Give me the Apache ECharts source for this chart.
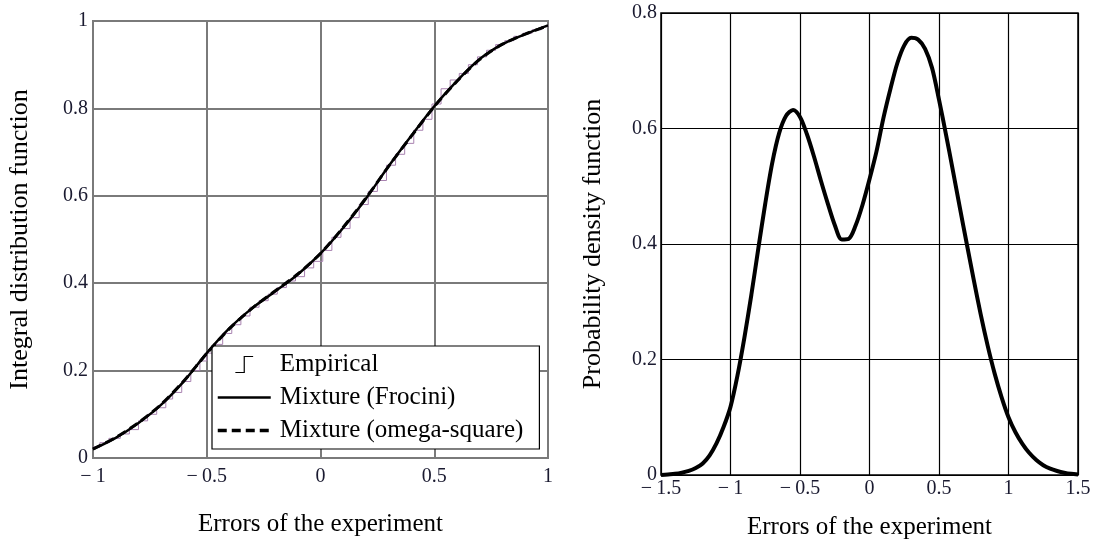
<!DOCTYPE html>
<html>
<head>
<meta charset="utf-8">
<script src="https://cdn.jsdelivr.net/npm/echarts@6/dist/echarts.min.js"></script>
<style>
html,body{margin:0;padding:0;background:#fff;overflow:hidden;}
#chart{width:1098px;height:540px;}
</style>
</head>
<body>
<div id="chart"></div>
<script>
// ---- Left chart: integral distribution function ----
const cdfX = [-1.0,-0.9,-0.8,-0.7,-0.6,-0.5,-0.4,-0.3,-0.2,-0.1,0.0,0.1,0.2,0.3,0.4,0.5,0.6,0.7,0.8,0.9,1.0];
const frociniY = [0.02,0.046,0.08,0.122,0.176,0.24,0.297,0.343,0.381,0.42,0.468,0.527,0.594,0.668,0.738,0.805,0.863,0.913,0.947,0.97,0.99];
const omegaY = [0.021,0.047,0.081,0.123,0.177,0.239,0.296,0.343,0.382,0.421,0.468,0.528,0.595,0.668,0.737,0.804,0.862,0.912,0.947,0.97,0.989];
const empX = [-1.0,-0.97,-0.93,-0.88,-0.84,-0.80,-0.76,-0.72,-0.68,-0.65,-0.61,-0.57,-0.53,-0.50,-0.47,-0.43,-0.39,-0.35,-0.31,-0.27,-0.23,-0.19,-0.15,-0.11,-0.07,-0.03,0.01,0.05,0.09,0.13,0.17,0.21,0.25,0.29,0.33,0.37,0.41,0.45,0.49,0.53,0.57,0.61,0.65,0.69,0.73,0.77,0.81,0.85,0.89,0.93,0.97,1.0];
const empY = [0.025,0.035,0.045,0.055,0.065,0.085,0.10,0.115,0.135,0.15,0.175,0.2,0.222,0.24,0.26,0.285,0.305,0.325,0.345,0.36,0.375,0.39,0.405,0.415,0.435,0.45,0.475,0.505,0.525,0.55,0.58,0.61,0.635,0.67,0.695,0.72,0.75,0.775,0.81,0.845,0.865,0.88,0.9,0.918,0.933,0.946,0.955,0.965,0.972,0.98,0.987,0.99];

// ---- Right chart: probability density function ----
const pdfX = [-1.5,-1.45,-1.4,-1.35,-1.3,-1.25,-1.2,-1.15,-1.1,-1.05,-1.0,-0.95,-0.9,-0.85,-0.8,-0.75,-0.7,-0.65,-0.6,-0.55,-0.5,-0.45,-0.4,-0.35,-0.3,-0.25,-0.2,-0.15,-0.1,-0.05,0.0,0.05,0.1,0.15,0.2,0.25,0.3,0.35,0.4,0.45,0.5,0.55,0.6,0.65,0.7,0.75,0.8,0.85,0.9,0.95,1.0,1.05,1.1,1.15,1.2,1.25,1.3,1.35,1.4,1.45,1.5];
const pdfY = [0.000,0.001,0.002,0.004,0.007,0.012,0.020,0.034,0.055,0.083,0.118,0.172,0.238,0.312,0.392,0.470,0.540,0.592,0.622,0.632,0.620,0.590,0.552,0.510,0.470,0.433,0.408,0.409,0.432,0.468,0.512,0.560,0.618,0.668,0.713,0.744,0.757,0.754,0.738,0.705,0.650,0.590,0.527,0.463,0.400,0.338,0.278,0.224,0.176,0.135,0.100,0.074,0.054,0.038,0.026,0.017,0.011,0.007,0.004,0.002,0.001];

const leftXTicks = {min:-1, max:1, interval:0.5};
const leftYTicks = {min:0, max:1, interval:0.2};
const rightXTicks = {min:-1.5, max:1.5, interval:0.5};
const rightYTicks = {min:0, max:0.8, interval:0.2};

const seriesNames = ['Empirical','Mixture (Frocini)','Mixture (omega-square)'];
const axisTitleX = 'Errors of the experiment';
const axisTitleYLeft = 'Integral distribution function';
const axisTitleYRight = 'Probability density function';

const FONT = 'Liberation Serif';
const zip = (xs, ys) => xs.map((x, i) => [x, ys[i]]);
const fmt = v => {
  const r = Math.round(v * 10) / 10;
  return r < 0 ? '\u2212\u2009' + Math.abs(r) : String(r);
};
const tickLabel = {fontFamily: FONT, fontSize: 20, color: '#1a1a30', formatter: fmt};
const nameStyle = {fontFamily: FONT, fontSize: 25, color: '#000'};

const chart = echarts.init(document.getElementById('chart'), null, {renderer: 'canvas'});
chart.setOption({
  animation: false,
  backgroundColor: '#fff',
  grid: [
    {left: 93, top: 21, width: 455, height: 437, show: true, borderColor: '#7a7a7a', borderWidth: 2,
      containLabel: false, outerBoundsMode: 'none'},
    {left: 661, top: 13, width: 417, height: 462, show: true, borderColor: '#000', borderWidth: 1.5,
      containLabel: false, outerBoundsMode: 'none'}
  ],
  xAxis: [
    Object.assign({gridIndex: 0, type: 'value', name: axisTitleX, nameLocation: 'middle', nameGap: 54,
      nameTextStyle: nameStyle, axisLine: {show: false}, axisTick: {show: false},
      axisLabel: Object.assign({margin: 9}, tickLabel),
      splitLine: {show: true, lineStyle: {color: '#7a7a7a', width: 2}}}, leftXTicks),
    Object.assign({gridIndex: 1, type: 'value', name: axisTitleX, nameLocation: 'middle', nameGap: 40,
      nameTextStyle: nameStyle, axisLine: {show: false}, axisTick: {show: false},
      axisLabel: Object.assign({margin: 4}, tickLabel),
      splitLine: {show: true, lineStyle: {color: '#000', width: 1.2}}}, rightXTicks)
  ],
  yAxis: [
    Object.assign({gridIndex: 0, type: 'value', name: axisTitleYLeft, nameLocation: 'middle', nameGap: 60,
      nameTextStyle: Object.assign({}, nameStyle, {fontSize: 26}), axisLine: {show: false}, axisTick: {show: false},
      axisLabel: Object.assign({margin: 5}, tickLabel),
      splitLine: {show: true, lineStyle: {color: '#7a7a7a', width: 2}}}, leftYTicks),
    Object.assign({gridIndex: 1, type: 'value', name: axisTitleYRight, nameLocation: 'middle', nameGap: 55,
      nameTextStyle: Object.assign({}, nameStyle, {fontSize: 26}), axisLine: {show: false}, axisTick: {show: false},
      axisLabel: Object.assign({margin: 4}, tickLabel),
      splitLine: {show: true, lineStyle: {color: '#000', width: 1.2}}}, rightYTicks)
  ],
  legend: {
    orient: 'vertical',
    left: 212, top: 346,
    padding: [6, 16, 6, 4],
    itemWidth: 53, itemHeight: 16, itemGap: 8,
    backgroundColor: '#fff',
    borderColor: '#000', borderWidth: 1.2, borderRadius: 0,
    selectedMode: false,
    textStyle: {fontFamily: FONT, fontSize: 25, color: '#000', padding: [0, 0, 0, 4]},
    data: [
      {name: seriesNames[0], icon: 'path://M0,20 L10,20 L10,2 L20,2', itemStyle: {color: 'transparent', borderColor: '#000', borderWidth: 1.2}},
      {name: seriesNames[1], itemStyle: {color: 'transparent', borderColor: 'transparent', borderWidth: 0},
        lineStyle: {color: '#000', width: 2.5, type: 'solid'}},
      {name: seriesNames[2], itemStyle: {color: 'transparent', borderColor: 'transparent', borderWidth: 0},
        lineStyle: {color: '#000', width: 3.5, type: [9, 5]}}
    ]
  },
  series: [
    {name: seriesNames[0], type: 'line', xAxisIndex: 0, yAxisIndex: 0, step: 'end', symbol: 'none',
      data: zip(empX, empY), lineStyle: {color: '#a882b0', width: 1}, itemStyle: {color: '#a882b0'}, z: 2},
    {name: seriesNames[2], type: 'line', xAxisIndex: 0, yAxisIndex: 0, smooth: 0.3, symbol: 'none',
      data: zip(cdfX, omegaY), lineStyle: {color: '#000', width: 3, type: [9, 5]}, itemStyle: {color: '#000'}, z: 3},
    {name: seriesNames[1], type: 'line', xAxisIndex: 0, yAxisIndex: 0, smooth: 0.3, symbol: 'none',
      data: zip(cdfX, frociniY), lineStyle: {color: '#000', width: 2.5}, itemStyle: {color: '#000'}, z: 4},
    {name: 'PDF', type: 'line', xAxisIndex: 1, yAxisIndex: 1, smooth: 0.3, symbol: 'none',
      data: zip(pdfX, pdfY), lineStyle: {color: '#000', width: 4}, itemStyle: {color: '#000'}, z: 4}
  ]
});
</script>
</body>
</html>
